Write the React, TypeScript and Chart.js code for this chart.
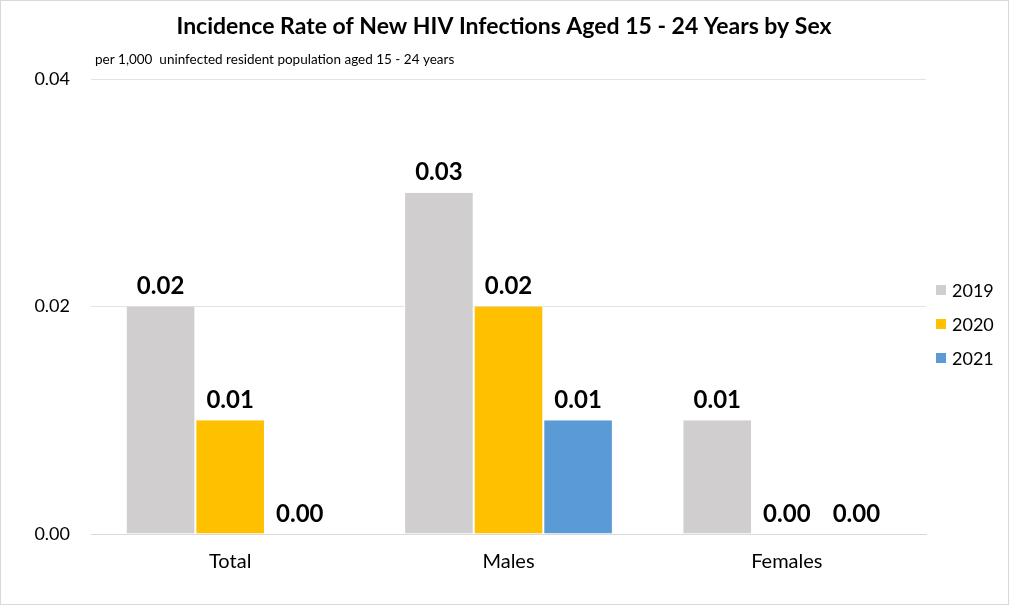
import React, { useEffect, useRef } from "react";
import { Chart, registerables } from "chart.js";

Chart.register(...registerables);

const categories = ["Total", "Males", "Females"];
const years = ["2019", "2020", "2021"];
const values2019 = [0.02, 0.03, 0.01];
const values2020 = [0.01, 0.02, 0.0];
const values2021 = [0.0, 0.01, 0.0];
const colors = ["#d0cece", "#ffc000", "#5b9bd5"];
const yTicks = [0, 0.02, 0.04];
const titleText = "Incidence Rate of New HIV Infections Aged 15 - 24 Years by Sex";
const subtitleText = "per 1,000  uninfected resident population aged 15 - 24 years";

const FONT = "Lato, 'Open Sans', sans-serif";

const decorPlugin = {
  id: "decor",
  beforeDraw(chart: any) {
    const ctx = chart.ctx;
    ctx.save();
    ctx.fillStyle = "#ffffff";
    ctx.fillRect(0, 0, chart.width, chart.height);
    ctx.strokeStyle = "#d9d9d9";
    ctx.lineWidth = 1;
    ctx.strokeRect(0.5, 0.5, chart.width - 1, chart.height - 1);
    ctx.restore();
  },
  afterDraw(chart: any) {
    const ctx = chart.ctx;
    ctx.save();
    // title
    ctx.fillStyle = "#000";
    ctx.font = `bold 23px ${FONT}`;
    ctx.textAlign = "center";
    ctx.textBaseline = "middle";
    ctx.fillText(titleText, 504, 27);
    // subtitle
    ctx.font = `13.5px ${FONT}`;
    ctx.textAlign = "left";
    ctx.fillText(subtitleText, 95, 60);
    // data labels
    ctx.font = `bold 24px ${FONT}`;
    ctx.textAlign = "center";
    ctx.textBaseline = "bottom";
    chart.data.datasets.forEach((ds: any, di: number) => {
      const meta = chart.getDatasetMeta(di);
      meta.data.forEach((bar: any, i: number) => {
        const v = ds.data[i];
        ctx.fillText(v.toFixed(2), bar.x, bar.y - 8);
      });
    });
    // legend
    ctx.font = `18px ${FONT}`;
    ctx.textAlign = "left";
    ctx.textBaseline = "middle";
    chart.data.datasets.forEach((ds: any, di: number) => {
      const y = 290 + di * 34;
      ctx.fillStyle = ds.backgroundColor;
      ctx.fillRect(936, y - 5, 10, 10);
      ctx.fillStyle = "#000";
      ctx.fillText(ds.label, 952, y + 1);
    });
    ctx.restore();
  },
};

export default function App() {
  const ref = useRef<HTMLCanvasElement | null>(null);
  useEffect(() => {
    document.body.style.margin = "0";
    const seriesValues = [values2019, values2020, values2021];
    const chart = new Chart(ref.current as HTMLCanvasElement, {
      type: "bar",
      data: {
        labels: categories,
        datasets: years.map((y, i) => ({
          label: y,
          data: seriesValues[i],
          backgroundColor: colors[i],
          borderColor: "#ffffff",
          borderWidth: { left: 1, right: 1, top: 0, bottom: 0 },
          categoryPercentage: 0.75,
          barPercentage: 1,
        })),
      },
      options: {
        animation: false,
        responsive: false,
        maintainAspectRatio: false,
        layout: { padding: { left: 0, right: 83, top: 79, bottom: 0 } },
        plugins: {
          legend: { display: false },
          title: { display: false },
          tooltip: { enabled: false },
        },
        scales: {
          x: {
            grid: { display: false, drawTicks: false },
            border: { display: true, color: "#d9d9d9" },
            ticks: {
              color: "#000",
              font: { family: FONT, size: 20 },
              padding: 16,
            },
            afterFit(scale: any) {
              scale.height = 71;
            },
          },
          y: {
            min: 0,
            max: 0.04,
            afterBuildTicks(scale: any) {
              scale.ticks = yTicks.map((v) => ({ value: v }));
            },
            grid: { color: "#e3e3e3", drawTicks: false },
            border: { display: false },
            ticks: {
              color: "#000",
              font: { family: FONT, size: 18 },
              padding: 21,
              callback: (v: any) => Number(v).toFixed(2),
            },
            afterFit(scale: any) {
              scale.width = 91;
            },
          },
        },
      },
      plugins: [decorPlugin],
    } as any);
    return () => chart.destroy();
  }, []);
  return (
    <div style={{ position: "absolute", left: 0, top: 0, width: 1009, height: 605 }}>
      <canvas ref={ref} width={1009} height={605} style={{ display: "block" }} />
    </div>
  );
}
